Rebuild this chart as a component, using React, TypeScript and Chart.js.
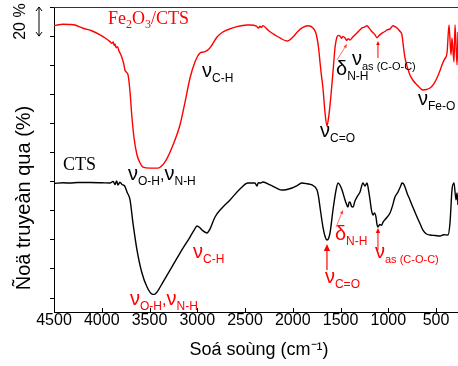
import React, { useEffect, useRef } from "react";
import { Chart, registerables } from "chart.js";
Chart.register(...registerables);

// Wavenumber (cm^-1) and transmittance (offset %, arbitrary units) for Fe2O3/CTS
const wnFe = [4500,4450,4406,4330,4280,4196,4100,4018,3960,3914,3895,3880,3870,3861,3850,3835,3820,3809,3790,3770,3757,3740,3725,3704,3686,3662,3631,3600,3568,3495,3411,3338,3254,3181,3128,3076,3024,2971,2940,2919,2880,2846,2793,2740,2689,2584,2479,2448,2380,2360,2343,2330,2312,2280,2238,2180,2134,2060,1998,1950,1903,1841,1788,1760,1746,1730,1715,1700,1684,1663,1642,1625,1610,1579,1558,1537,1520,1506,1490,1475,1453,1435,1420,1401,1370,1328,1300,1275,1250,1223,1200,1170,1140,1118,1095,1066,1040,1013,980,951,930,909,880,857,840,825,800,773,740,699,660,637,600,563,525,490,460,438,412,385,364,343,333,312,301,280,270];
const tFe = [187.1,187.8,188.1,188.0,187.6,185.4,183.5,180.8,178.5,176.2,175.0,176.0,173.5,174.5,172.0,172.8,169.8,168.4,165.5,161.0,156.7,155.0,153.3,141.8,125.8,110.0,98.3,93.0,90.0,89.3,89.3,93.5,105.2,118.9,134.7,151.2,162.2,168.4,169.0,169.3,171.0,173.9,179.4,182.5,184.2,186.5,187.6,187.6,186.8,185.5,186.8,185.8,187.2,185.5,183.0,180.5,178.7,176.6,179.4,183.0,185.6,187.1,185.6,182.5,178.7,172.0,162.2,153.0,144.3,127.8,118.2,124.0,132.6,155.3,171.8,179.4,180.5,180.1,178.5,179.8,178.7,177.0,178.3,177.3,179.5,182.1,184.0,185.6,186.2,187.1,185.5,183.0,181.0,178.9,180.5,182.1,183.0,184.2,185.0,187.1,186.5,185.6,183.5,180.8,172.0,165.0,158.5,153.3,149.5,146.4,143.8,143.0,143.3,144.3,147.0,151.2,156.0,160.1,164.0,168.4,187.6,167.0,178.7,162.2,187.6,160.1,182.8];

// Wavenumber and transmittance for CTS
const wnCts = [4500,4400,4332,4250,4123,4000,3914,3880,3861,3845,3830,3810,3788,3760,3736,3704,3673,3631,3579,3526,3474,3450,3422,3359,3285,3181,3076,3030,3003,2975,2950,2898,2867,2814,2741,2657,2553,2469,2396,2375,2360,2343,2312,2238,2170,2113,2060,2008,1950,1903,1850,1799,1746,1730,1715,1684,1660,1642,1625,1610,1579,1547,1526,1505,1484,1453,1440,1422,1412,1401,1385,1369,1350,1328,1296,1265,1244,1223,1205,1191,1175,1160,1145,1129,1118,1108,1090,1070,1055,1020,982,955,930,898,870,857,840,825,800,773,740,699,660,637,600,563,510,458,420,375,354,333,312,291,280,270];
const tCts = [78.8,79.2,79.0,79.4,79.4,79.2,79.0,80.2,78.0,80.4,77.7,79.6,78.0,77.0,72.9,67.4,51.5,33.0,17.2,7.6,2.7,2.5,4.1,11.0,19.2,30.9,41.9,47.0,49.5,48.5,46.7,44.7,47.4,55.7,61.9,67.4,74.9,79.0,79.0,77.0,79.3,79.0,79.7,77.7,75.5,74.2,74.6,75.6,77.5,79.0,78.5,77.7,74.2,69.5,62.5,48.8,42.0,39.9,41.0,44.7,60.5,74.2,79.0,77.5,74.2,67.4,65.0,62.5,65.5,66.0,63.0,62.5,66.5,69.4,72.9,79.0,77.0,79.0,73.5,67.4,60.0,57.0,58.5,55.7,50.5,48.8,50.5,50.0,52.2,55.0,58.4,63.5,69.4,72.9,77.0,79.0,78.5,76.3,71.5,67.4,62.0,55.7,50.0,46.7,44.0,43.3,43.0,42.6,43.5,43.3,51.5,74.2,79.0,67.4,72.2,63.9];

const xTicks = [4500, 4000, 3500, 3000, 2500, 2000, 1500, 1000, 500];
const yTicks = [0, 20, 40, 60, 80, 100, 120, 140, 160, 180, 200];

const X_MIN = 270;
const X_MAX = 4500;
const Y_MIN = -9.6;
const Y_MAX = 200;

const RED = "#ff0000";
const GF = "20px 'Liberation Sans', Arial, sans-serif";
const SF = "12px 'Liberation Sans', Arial, sans-serif";
const SF2 = "11px 'Liberation Sans', Arial, sans-serif";
const CF = "16px 'Liberation Sans', Arial, sans-serif";

type Part = { t: string; k: "g" | "s" | "s2" | "c" };
type Label = { wn: number; v: number; parts: Part[]; color: string };

const nuOHNH: Part[] = [
  { t: "ν", k: "g" }, { t: "O-H", k: "s" }, { t: ",", k: "c" },
  { t: "ν", k: "g" }, { t: "N-H", k: "s" },
];
const nuCH: Part[] = [{ t: "ν", k: "g" }, { t: "C-H", k: "s" }];
const nuCO: Part[] = [{ t: "ν", k: "g" }, { t: "C=O", k: "s" }];
const deltaNH: Part[] = [{ t: "δ", k: "g" }, { t: "N-H", k: "s" }];
const nuCOC: Part[] = [{ t: "ν", k: "g" }, { t: "as (C-O-C)", k: "s2" }];
const nuFeO: Part[] = [{ t: "ν", k: "g" }, { t: "Fe-O", k: "s" }];

const labels: Label[] = [
  { wn: 3725, v: 81.1, parts: nuOHNH, color: "#000" },
  { wn: 2950, v: 151.9, parts: nuCH, color: "#000" },
  { wn: 1715, v: 110.7, parts: nuCO, color: "#000" },
  { wn: 1547, v: 153.3, parts: deltaNH, color: "#000" },
  { wn: 1380, v: 160.1, parts: nuCOC, color: "#000" },
  { wn: 689, v: 132.6, parts: nuFeO, color: "#000" },
  { wn: 3704, v: -4.8, parts: nuOHNH, color: RED },
  { wn: 3045, v: 27.5, parts: nuCH, color: RED },
  { wn: 1663, v: 10.3, parts: nuCO, color: RED },
  { wn: 1558, v: 39.9, parts: deltaNH, color: RED },
  { wn: 1139, v: 27.5, parts: nuCOC, color: RED },
];

type Arrow = { wn1: number; v1: number; wn2: number; v2: number; w: number; head: number; thin: boolean };
const arrows: Arrow[] = [
  { wn1: 1642, v1: 19.2, wn2: 1642, v2: 37.1, w: 1.2, head: 7, thin: false },
  { wn1: 1547, v1: 48.8, wn2: 1474, v2: 60.5, w: 0.8, head: 4, thin: true },
  { wn1: 1108, v1: 33.0, wn2: 1108, v2: 48.1, w: 1, head: 5, thin: false },
  { wn1: 1537, v1: 163.6, wn2: 1432, v2: 174.6, w: 0.8, head: 4, thin: true },
  { wn1: 1108, v1: 165.0, wn2: 1108, v2: 176.6, w: 1, head: 4, thin: false },
];

function drawParts(ctx: CanvasRenderingContext2D, x0: number, y0: number, parts: Part[], color: string) {
  let cx = x0;
  ctx.fillStyle = color;
  ctx.textAlign = "left";
  ctx.textBaseline = "alphabetic";
  for (const p of parts) {
    ctx.font = p.k === "g" ? GF : p.k === "s" ? SF : p.k === "s2" ? SF2 : CF;
    const dy = p.k === "s" || p.k === "s2" ? 5 : 0;
    ctx.fillText(p.t, cx, y0 + dy);
    cx += ctx.measureText(p.t).width;
  }
}

function drawArrow(ctx: CanvasRenderingContext2D, x1: number, y1: number, x2: number, y2: number, w: number, head: number, thin: boolean) {
  const ang = Math.atan2(y2 - y1, x2 - x1);
  ctx.strokeStyle = RED;
  ctx.fillStyle = RED;
  ctx.lineWidth = w;
  ctx.globalAlpha = thin ? 0.7 : 1;
  ctx.beginPath();
  ctx.moveTo(x1, y1);
  ctx.lineTo(x2 - Math.cos(ang) * head * 0.8, y2 - Math.sin(ang) * head * 0.8);
  ctx.stroke();
  ctx.beginPath();
  ctx.moveTo(x2, y2);
  ctx.lineTo(x2 - Math.cos(ang) * head + Math.sin(ang) * head * 0.45, y2 - Math.sin(ang) * head - Math.cos(ang) * head * 0.45);
  ctx.lineTo(x2 - Math.cos(ang) * head - Math.sin(ang) * head * 0.45, y2 - Math.sin(ang) * head + Math.cos(ang) * head * 0.45);
  ctx.closePath();
  ctx.fill();
  ctx.globalAlpha = 1;
}

const decoPlugin = {
  id: "deco",
  afterDatasetsDraw(chart: any) {
    const { ctx, chartArea, scales } = chart;
    const xs = scales.x;
    const ys = scales.y;
    ctx.save();
    // top frame line
    ctx.strokeStyle = "#333";
    ctx.lineWidth = 1;
    ctx.beginPath();
    ctx.moveTo(chartArea.left, chartArea.top + 0.5);
    ctx.lineTo(chartArea.right, chartArea.top + 0.5);
    ctx.stroke();
    // inward x tick marks
    ctx.strokeStyle = "#000";
    for (const t of xTicks) {
      const px = Math.round(xs.getPixelForValue(t)) + 0.5;
      ctx.beginPath();
      ctx.moveTo(px, chartArea.bottom);
      ctx.lineTo(px, chartArea.bottom - 4);
      ctx.stroke();
    }
    // series names
    ctx.textBaseline = "alphabetic";
    ctx.textAlign = "left";
    const serif = (s: number) => `${s}px 'Liberation Serif', 'Times New Roman', serif`;
    let cx = xs.getPixelForValue(3935);
    const by = ys.getPixelForValue(188.3);
    ctx.fillStyle = RED;
    const feParts: [string, boolean][] = [["Fe", false], ["2", true], ["O", false], ["3", true], ["/CTS", false]];
    for (const [t, sub] of feParts) {
      ctx.font = serif(sub ? 12 : 18);
      ctx.fillText(t, cx, by + (sub ? 4 : 0));
      cx += ctx.measureText(t).width;
    }
    ctx.fillStyle = "#000";
    ctx.font = serif(18);
    ctx.fillText("CTS", xs.getPixelForValue(4406), ys.getPixelForValue(88.0));
    // band labels
    for (const l of labels) {
      drawParts(ctx, xs.getPixelForValue(l.wn), ys.getPixelForValue(l.v), l.parts, l.color);
    }
    for (const a of arrows) {
      drawArrow(ctx, xs.getPixelForValue(a.wn1), ys.getPixelForValue(a.v1), xs.getPixelForValue(a.wn2), ys.getPixelForValue(a.v2), a.w, a.head, a.thin);
    }
    // 20 % scale bar
    const ax = chartArea.left - 15;
    const y1 = ys.getPixelForValue(200);
    const y2 = ys.getPixelForValue(180);
    ctx.strokeStyle = "#000";
    ctx.lineWidth = 1;
    ctx.beginPath();
    ctx.moveTo(ax, y1);
    ctx.lineTo(ax, y2);
    ctx.moveTo(ax - 3, y1 + 4);
    ctx.lineTo(ax, y1);
    ctx.lineTo(ax + 3, y1 + 4);
    ctx.moveTo(ax - 3, y2 - 4);
    ctx.lineTo(ax, y2);
    ctx.lineTo(ax + 3, y2 - 4);
    ctx.stroke();
    ctx.fillStyle = "#000";
    ctx.font = "16px 'Liberation Sans', Arial, sans-serif";
    ctx.save();
    ctx.translate(21, (y1 + y2) / 2);
    ctx.rotate(-Math.PI / 2);
    ctx.textAlign = "center";
    ctx.textBaseline = "middle";
    ctx.fillText("20 %", 0, 0);
    ctx.restore();
    // axis titles
    ctx.font = "20px 'Liberation Sans', Arial, sans-serif";
    ctx.save();
    ctx.translate(24, 198);
    ctx.rotate(-Math.PI / 2);
    ctx.textAlign = "center";
    ctx.textBaseline = "middle";
    ctx.fillText("Ñoä truyeàn qua (%)", 0, 0);
    ctx.restore();
    ctx.font = "18px 'Liberation Sans', Arial, sans-serif";
    ctx.textAlign = "center";
    ctx.textBaseline = "middle";
    ctx.fillText("Soá soùng (cm⁻¹)", 259, 350);
    ctx.restore();
  },
};

export default function App() {
  const ref = useRef<HTMLCanvasElement | null>(null);
  useEffect(() => {
    document.body.style.margin = "0";
    const canvas = ref.current;
    if (!canvas) return;
    const chart = new Chart(canvas, {
      type: "line",
      data: {
        datasets: [
          {
            label: "Fe2O3/CTS",
            data: wnFe.map((w, i) => ({ x: w, y: tFe[i] })),
            borderColor: RED,
            borderWidth: 1.4,
            pointRadius: 0,
            cubicInterpolationMode: "monotone",
          },
          {
            label: "CTS",
            data: wnCts.map((w, i) => ({ x: w, y: tCts[i] })),
            borderColor: "#000",
            borderWidth: 1.4,
            pointRadius: 0,
            cubicInterpolationMode: "monotone",
          },
        ],
      },
      options: {
        animation: false,
        responsive: false,
        maintainAspectRatio: false,
        layout: { padding: { top: 7, right: 0, left: 0, bottom: 0 } },
        plugins: { legend: { display: false }, tooltip: { enabled: false } },
        scales: {
          x: {
            type: "linear",
            reverse: true,
            min: X_MIN,
            max: X_MAX,
            afterBuildTicks: (s: any) => {
              s.ticks = xTicks.map((v) => ({ value: v }));
            },
            afterFit: (s: any) => {
              s.height = 54;
            },
            grid: { display: true, drawOnChartArea: false, drawTicks: false },
            border: { display: true, color: "#000", width: 1 },
            ticks: {
              color: "#000",
              padding: 1,
              maxRotation: 0,
              autoSkip: false,
              font: { family: "'Liberation Sans', Arial, sans-serif", size: 16, lineHeight: 1 },
              callback: (v: any) => String(v),
            },
          },
          y: {
            type: "linear",
            min: Y_MIN,
            max: Y_MAX,
            afterBuildTicks: (s: any) => {
              s.ticks = yTicks.map((v) => ({ value: v }));
            },
            afterFit: (s: any) => {
              s.width = 54;
            },
            grid: { display: true, drawOnChartArea: false, drawTicks: true, tickLength: 4, color: "#000" },
            border: { display: true, color: "#000", width: 1 },
            ticks: { display: false },
          },
        },
      },
      plugins: [decoPlugin],
    } as any);
    return () => chart.destroy();
  }, []);
  return (
    <div style={{ width: 458, height: 366 }}>
      <canvas ref={ref} width={458} height={366} style={{ display: "block" }} />
    </div>
  );
}
